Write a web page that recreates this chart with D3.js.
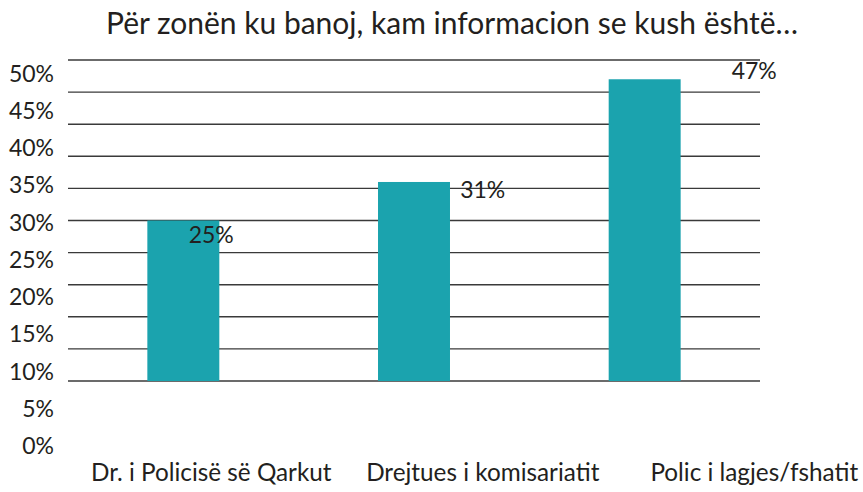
<!DOCTYPE html>
<html><head><meta charset="utf-8">
<script src="https://cdn.jsdelivr.net/npm/d3@7"></script>
<style>body{margin:0;background:#fff}svg{display:block}text{font-family:Lato,"Open Sans",sans-serif;fill:#231f20}</style>
</head><body><svg id="c" width="863" height="492"></svg>
<script>
const title = "Për zonën ku banoj, kam informacion se kush është…";
const categories = ["Dr. i Policisë së Qarkut", "Drejtues i komisariatit", "Polic i lagjes/fshatit"];
const values = [25, 31, 47];
const tickValues = [0, 5, 10, 15, 20, 25, 30, 35, 40, 45, 50];

const svg = d3.select("#c");
// plot scales (gridlines & bars)
const x = d3.scaleBand().domain(categories).range([68, 760]).paddingInner(0.688).paddingOuter(0.344);
const y = d3.scaleLinear().domain([0, 50]).range([381, 60]);
// label scales (as offset in the reference)
const xl = d3.scaleBand().domain(categories).range([75.5, 890]);
const yl = d3.scaleLinear().domain([0, 50]).range([445, 72.7]);

svg.append("text").attr("x", 452).attr("y", 22).attr("text-anchor", "middle")
  .attr("dominant-baseline", "central").style("font-size", "30px").text(title);

svg.append("g").selectAll("line").data(tickValues).join("line")
  .attr("x1", 68).attr("x2", 760).attr("y1", d => y(d)).attr("y2", d => y(d))
  .attr("stroke", "#3a3a3a").attr("stroke-width", 1.4);

svg.append("g").selectAll("text").data(tickValues).join("text")
  .attr("x", 54).attr("y", d => yl(d)).attr("text-anchor", "end")
  .attr("dominant-baseline", "central").style("font-size", "23px").text(d => d + "%");

svg.append("g").selectAll("rect").data(values).join("rect")
  .attr("x", (d, i) => x(categories[i])).attr("width", x.bandwidth())
  .attr("y", d => y(d)).attr("height", d => y(0) - y(d)).attr("fill", "#1ba3ae");

svg.append("g").selectAll("text").data(values).join("text")
  .attr("x", (d, i) => xl(categories[i]) + xl.bandwidth() / 2)
  .attr("y", d => yl(d) - 25).attr("text-anchor", "middle")
  .attr("dominant-baseline", "central").style("font-size", "23px").text(d => d + "%");

svg.append("g").selectAll("text").data(categories).join("text")
  .attr("x", d => xl(d) + xl.bandwidth() / 2).attr("y", 471).attr("text-anchor", "middle")
  .attr("dominant-baseline", "central").style("font-size", "24.3px").text(d => d);
</script></body></html>
